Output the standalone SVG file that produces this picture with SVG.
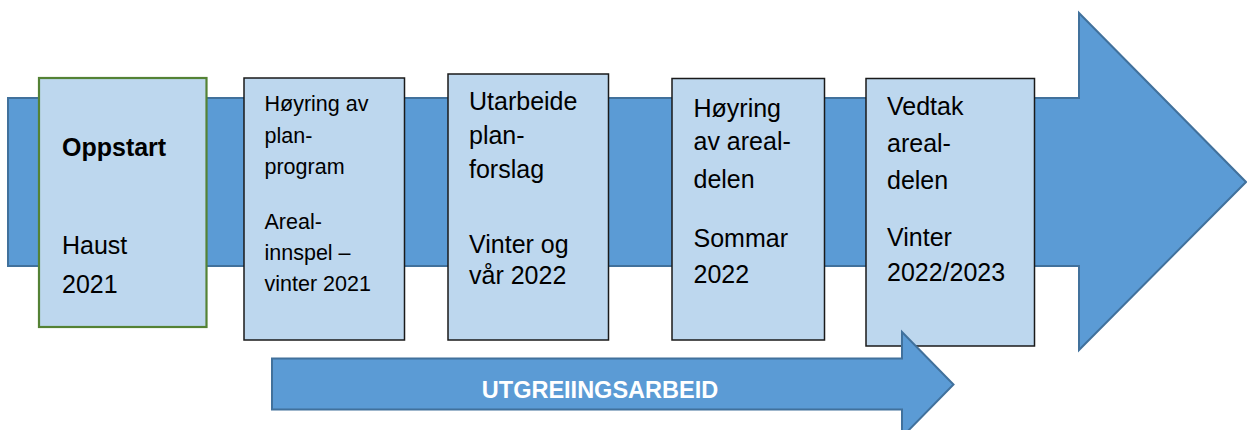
<svg xmlns="http://www.w3.org/2000/svg" width="1247" height="430" viewBox="0 0 1247 430">
<style>
.arrow{fill:#5B9BD5;stroke:#41719C;stroke-width:2;stroke-linejoin:miter}
.box{fill:#BDD7EE;stroke:#1a1a1a;stroke-width:1.5}
.green{stroke:#548235;stroke-width:2.2}
.t{font-family:"Liberation Sans",Arial,sans-serif;fill:#000;font-size:25px}
.s{font-size:21.5px}
.b{font-weight:bold}
.w{font-family:"Liberation Sans",Arial,sans-serif;fill:#fff;font-weight:bold;font-size:23.5px}
</style>
<g id="main-arrow">
<polygon class="arrow" points="8,98 1079,98 1079,13 1246,182 1079,350 1079,266 8,266"/>
</g>
<g id="node-oppstart">
<rect class="box green" x="39" y="78" width="167.5" height="249"/>
<text class="t b" x="62" y="156">Oppstart</text>
<text class="t" x="62" y="254">Haust</text>
<text class="t" x="62" y="292.5">2021</text>
</g>
<g id="node-hoyring-planprogram">
<rect class="box" x="244" y="78" width="160.5" height="262"/>
<text class="t s" x="264.5" y="111">Høyring av</text>
<text class="t s" x="264.5" y="142.5">plan-</text>
<text class="t s" x="264.5" y="173.5">program</text>
<text class="t s" x="264.5" y="228.5">Areal-</text>
<text class="t s" x="264.5" y="259.5">innspel –</text>
<text class="t s" x="264.5" y="290.5">vinter 2021</text>
</g>
<g id="node-utarbeide">
<rect class="box" x="448" y="74" width="160.5" height="266"/>
<text class="t" x="469" y="110">Utarbeide</text>
<text class="t" x="469" y="144">plan-</text>
<text class="t" x="469" y="177.5">forslag</text>
<text class="t" x="469" y="252.5">Vinter og</text>
<text class="t" x="469" y="284">vår 2022</text>
</g>
<g id="node-hoyring-arealdelen">
<rect class="box" x="672" y="78.5" width="152.5" height="261.5"/>
<text class="t" x="693.5" y="117">Høyring</text>
<text class="t" x="693.5" y="150">av areal-</text>
<text class="t" x="693.5" y="188">delen</text>
<text class="t" x="693.5" y="246.5">Sommar</text>
<text class="t" x="693.5" y="283">2022</text>
</g>
<g id="node-vedtak">
<rect class="box" x="866" y="78.5" width="168.5" height="267.5"/>
<text class="t" x="887" y="115">Vedtak</text>
<text class="t" x="887" y="152">areal-</text>
<text class="t" x="887" y="189">delen</text>
<text class="t" x="887" y="246">Vinter</text>
<text class="t" x="887" y="281">2022/2023</text>
</g>
<g id="connectors">
<polygon class="arrow" points="272,358.5 902,358.5 902,332 953.5,384.5 902,437 902,409.5 272,409.5"/>
<text class="w" x="600" y="398" text-anchor="middle">UTGREIINGSARBEID</text>
</g>
</svg>
